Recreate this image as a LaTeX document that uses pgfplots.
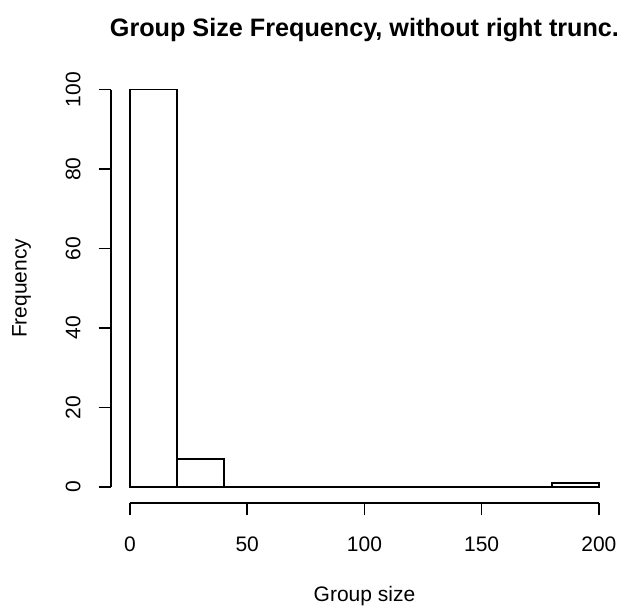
\documentclass[border=0pt]{standalone}
\usepackage{fontspec}
\setmainfont{Liberation Sans}
\usepackage{pgfplots}
\pgfplotsset{compat=1.18}
\begin{document}
\begin{tikzpicture}
\useasboundingbox (-63.6pt,-62.3pt) rectangle (299.9pt,287.4pt);
\begin{axis}[%
at={(0pt,0pt)}, anchor=south west,
scale only axis,
width=289.4pt,
height=245.3pt,
xmin=-8, xmax=208,
ymin=-4, ymax=104,
separate axis lines,
axis x line*=bottom,
axis y line*=left,
axis line style={draw=none},
tick align=outside,
major tick length=7.2pt,
every tick/.style={black, line width=0.9pt},
xtick={0,50,100,150,200},
ytick={0,20,40,60,80,100},
/pgf/number format/assume math mode=true,
tick label style={font=\fontsize{12}{14}\selectfont},
xticklabel style={anchor=center, yshift=-16.3pt},
yticklabel style={anchor=center, xshift=-14.6pt, rotate=90},
xlabel={Group size},
ylabel={Frequency},
label style={font=\fontsize{12}{14}\selectfont},
xlabel style={at={(rel axis cs:0.5,0)}, anchor=center, yshift=-53.4pt},
ylabel style={at={(rel axis cs:0,0.5)}, anchor=center, yshift=51.3pt},
title={Group Size Frequency, without right trunc.},
title style={font=\fontsize{14.4}{17}\selectfont\bfseries, at={(rel axis cs:0.5,1)}, anchor=base, yshift=15.4pt},
clip=false,
]
% histogram counts, bins of width 20
\addplot[ybar interval, draw=black, fill=white, line width=0.9pt] coordinates {
	(0, 100)
	(20, 7)
	(40, 0)
	(60, 0)
	(80, 0)
	(100, 0)
	(120, 0)
	(140, 0)
	(160, 0)
	(180, 1)
	(200, 1)
};
\draw[line width=0.9pt] (axis cs:0,-4) -- (axis cs:200,-4);
\draw[line width=0.9pt] (axis cs:-8,0) -- (axis cs:-8,100);
\end{axis}
\end{tikzpicture}
\end{document}
